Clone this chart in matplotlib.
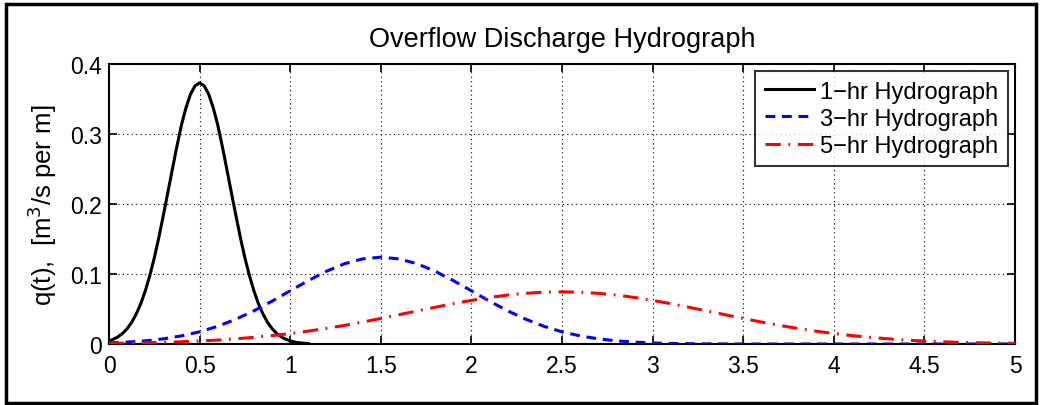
import numpy as np
import matplotlib
matplotlib.use("Agg")
import matplotlib.pyplot as plt
from matplotlib.patches import Rectangle

plt.rcParams['font.family'] = ['Liberation Sans', 'DejaVu Sans']

title = "Overflow Discharge Hydrograph"
ylabel = "q(t),  [m$^3$/s per m]"
labels = ["1\u2212hr Hydrograph", "3\u2212hr Hydrograph", "5\u2212hr Hydrograph"]

t1 = np.round(np.arange(0, 1.1001, 0.025), 3)
q1 = [0.0044, 0.0069, 0.0103, 0.0152, 0.0219, 0.0309, 0.0426, 0.0574, 0.0757,
      0.0977, 0.123, 0.1521, 0.184, 0.2168, 0.250, 0.2828, 0.313, 0.3376, 0.357,
      0.3689, 0.373, 0.3689, 0.357, 0.3376, 0.313, 0.2828, 0.250, 0.2168, 0.184,
      0.1521, 0.123, 0.0977, 0.0757, 0.0574, 0.0426, 0.0309, 0.0219, 0.0152,
      0.0103, 0.0069, 0.0044, 0.0028, 0.0018, 0.0011, 0.0006]

t3 = np.round(np.arange(0, 5.0001, 0.1), 2)
q3 = [0.0015, 0.0027, 0.0045, 0.0074, 0.0116, 0.0174, 0.0253, 0.0354, 0.0474,
      0.0612, 0.0760, 0.0906, 0.1039, 0.1147, 0.1216, 0.124, 0.1216, 0.1147,
      0.1039, 0.0906, 0.0760, 0.0612, 0.0474, 0.0354, 0.0253, 0.0174, 0.0116,
      0.0074, 0.0045, 0.0027, 0.0015, 0.0008, 0.0004, 0.0002, 0.0001,
      0, 0, 0, 0, 0, 0, 0, 0, 0, 0, 0, 0, 0, 0, 0, 0]

t5 = np.round(np.arange(0, 5.0001, 0.1), 2)
q5 = [0.0009, 0.0012, 0.0017, 0.0023, 0.0032, 0.0043, 0.0056, 0.0074, 0.0095,
      0.0120, 0.0149, 0.0184, 0.0223, 0.0266, 0.0314, 0.0365, 0.0418, 0.0472,
      0.0525, 0.0576, 0.0623, 0.0665, 0.0699, 0.0724, 0.0740, 0.0745, 0.0740,
      0.0724, 0.0699, 0.0665, 0.0623, 0.0576, 0.0525, 0.0472, 0.0418, 0.0365,
      0.0314, 0.0266, 0.0223, 0.0184, 0.0149, 0.0120, 0.0095, 0.0074, 0.0056,
      0.0043, 0.0032, 0.0023, 0.0017, 0.0012, 0.0009]

xticks = [0, 0.5, 1, 1.5, 2, 2.5, 3, 3.5, 4, 4.5, 5]
xticklabels = ["0", "0.5", "1", "1.5", "2", "2.5", "3", "3.5", "4", "4.5", "5"]
yticks = [0, 0.1, 0.2, 0.3, 0.4]
yticklabels = ["0", "0.1", "0.2", "0.3", "0.4"]

fig = plt.figure(figsize=(10.42, 4.06), dpi=100)
ax = fig.add_axes([109/1042, 1-345/406, (1015-109)/1042, (345-65)/406])

ax.plot(t1, q1, color='black', lw=2.2, ls='-', label=labels[0], zorder=3)
ax.plot(t3, q3, color='#0000ff', lw=2.2, ls=(0, (3.2, 2.2)), label=labels[1], zorder=3)
ax.plot(t5, q5, color='#ff0000', lw=2.2, ls=(0, (5, 2.5, 0.6, 2.5)), label=labels[2], zorder=3)

ax.set_xlim(0, 5)
ax.set_ylim(0, 0.4)
ax.set_xticks(xticks)
ax.set_xticklabels(xticklabels)
ax.set_yticks(yticks)
ax.set_yticklabels(yticklabels)
ax.grid(True, color='black', ls=(0, (1, 3)), lw=0.8)
ax.tick_params(direction='in', top=True, right=True, length=6, width=1.2,
               labelsize=16.5, pad=5)
ax.tick_params(axis='x', pad=7)
for s in ax.spines.values():
    s.set_linewidth(1.5)

ax.set_title(title, fontsize=19.5, pad=13)
ax.set_ylabel(ylabel, fontsize=18.5, labelpad=8)

leg = ax.legend(loc='upper right', fontsize=17, frameon=True, fancybox=False,
                edgecolor='black', borderpad=0.4, labelspacing=0.22,
                handlelength=2.1, handletextpad=0.25, borderaxespad=0.3)
leg.get_frame().set_linewidth(1.5)

fig.patches.append(Rectangle((6/1042, 1-404/406), (1036-6)/1042, (404-5)/406,
                             transform=fig.transFigure, fill=False,
                             edgecolor='black', lw=2.5))

fig.savefig("out.png", dpi=100)
